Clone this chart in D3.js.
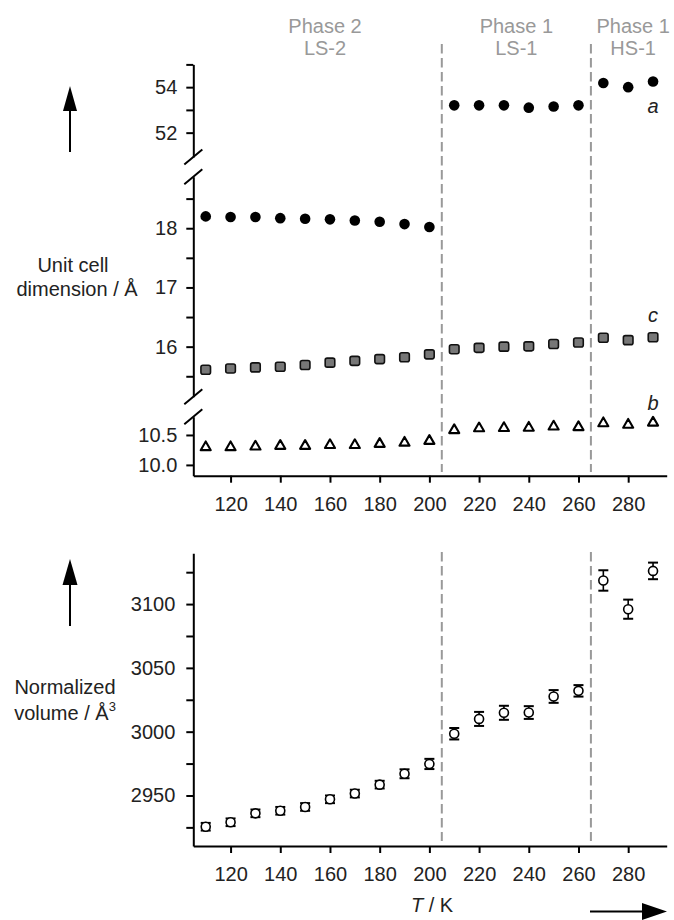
<!DOCTYPE html>
<meta charset="utf-8">
<style>
body { margin: 0; background: #fff; }
svg { font-family: "Liberation Sans", Arial, sans-serif; }
.axis path, .axis line { stroke: #000; stroke-width: 2; }
.axis text { font-size: 20px; fill: #222; font-family: "Liberation Sans", Arial, sans-serif; }
.phase { fill: #999; font-size: 20px; text-anchor: middle; }
.lbl { fill: #222; font-size: 20px; text-anchor: middle; }
.dash { stroke: #999; stroke-width: 2; stroke-dasharray: 9.5,4.5; }
</style>
<body>
<script src="https://d3js.org/d3.v7.min.js"></script>
<script>

// temperatures (K)
var temps = [110, 120, 130, 140, 150, 160, 170, 180, 190, 200,
             210, 220, 230, 240, 250, 260, 270, 280, 290];

// unit cell a (two ranges: LS-2 ~18 A, LS-1/HS-1 ~53-54 A)
var aVals = [18.20, 18.19, 18.19, 18.17, 18.16, 18.15, 18.13, 18.11, 18.07, 18.02,
             53.20, 53.20, 53.20, 53.10, 53.15, 53.20, 54.18, 54.00, 54.25];
// unit cell c
var cVals = [15.61, 15.63, 15.65, 15.66, 15.69, 15.73, 15.76, 15.79, 15.82, 15.87,
             15.955, 15.98, 16.00, 16.005, 16.045, 16.07, 16.15, 16.11, 16.16];
// unit cell b
var bVals = [10.295, 10.295, 10.305, 10.317, 10.317, 10.33, 10.33, 10.35, 10.37, 10.40,
             10.58, 10.61, 10.615, 10.62, 10.64, 10.63, 10.695, 10.67, 10.705];

// normalized volume (A^3) and error
var volume = [2925.5, 2929, 2936, 2938, 2941, 2947, 2951.5, 2958.5, 2967, 2974.7,
              2998.4, 3010, 3014.8, 3015, 3027.6, 3032, 3118.5, 3096, 3126];
var volErr = [3, 3, 3, 3, 3, 3, 3, 3, 3.5, 4,
              4.5, 5.5, 5.5, 5, 5, 4.5, 8, 7.5, 6.5];

var xTicks = [120, 140, 160, 180, 200, 220, 240, 260, 280];
var aTicks = [52, 53, 54, 55];
var midTicks = [15.5, 16, 16.5, 17, 17.5, 18, 18.5];
var bTicks = [10.0, 10.5];
var volTicks = [2925, 2950, 2975, 3000, 3025, 3050, 3075, 3100, 3125];
var phaseBounds = [205, 265];
var phaseLabels = [
  {t: 158, l1: "Phase 2", l2: "LS-2"},
  {t: 235, l1: "Phase 1", l2: "LS-1"},
  {t: 282, l1: "Phase 1", l2: "HS-1"}
];

var svg = d3.select("body").append("svg")
    .attr("width", 674)
    .attr("height", 920);

var x = d3.scaleLinear().domain([105, 295.5]).range([193.3, 666.7]);

// top panel: three broken y ranges
var y1 = d3.scaleLinear().domain([50.93, 55]).range([157, 64.4]);
var y2 = d3.scaleLinear().domain([15.155, 18.87]).range([396.7, 176.7]);
var y3 = d3.scaleLinear().domain([9.82, 10.805]).range([475.7, 416.7]);
var topBase = 475.7;

// bottom panel
var yV = d3.scaleLinear().domain([2910.4, 3139.8]).range([846, 553.3]);
var botBase = 846;

function yAxis(scale, ticks, labelled, fmt) {
  return d3.axisLeft(scale)
      .tickValues(ticks)
      .tickSize(7)
      .tickSizeOuter(0)
      .tickPadding(9)
      .tickFormat(function(d) { return labelled(d) ? fmt(d) : ""; });
}

var ax = x(105);

svg.append("g").attr("class", "axis")
    .attr("transform", "translate(" + ax + ",0)")
    .call(yAxis(y1, aTicks, function(d) { return d % 2 == 0; }, d3.format("d")));
svg.append("g").attr("class", "axis")
    .attr("transform", "translate(" + ax + ",0)")
    .call(yAxis(y2, midTicks, function(d) { return d % 1 == 0; }, d3.format("d")));
svg.append("g").attr("class", "axis")
    .attr("transform", "translate(" + ax + ",0)")
    .call(yAxis(y3, bTicks, function(d) { return true; }, d3.format(".1f")));

// axis break slashes
[y1.range()[0], y2.range()[1], y2.range()[0], y3.range()[1]].forEach(function(yy) {
  svg.append("line")
      .attr("x1", ax - 9).attr("y1", yy + 7.5)
      .attr("x2", ax + 9).attr("y2", yy - 7.5)
      .attr("stroke", "#000").attr("stroke-width", 2);
});

svg.append("g").attr("class", "axis")
    .attr("transform", "translate(0," + topBase + ")")
    .call(d3.axisBottom(x).tickValues(xTicks).tickSize(7).tickSizeOuter(0).tickPadding(14));

svg.append("g").attr("class", "axis")
    .attr("transform", "translate(" + ax + ",0)")
    .call(d3.axisLeft(yV).tickValues(volTicks).tickSize(7).tickSizeOuter(0).tickPadding(11)
      .tickFormat(function(d) { return d % 50 == 0 ? d : ""; }));

svg.append("g").attr("class", "axis")
    .attr("transform", "translate(0," + botBase + ")")
    .call(d3.axisBottom(x).tickValues(xTicks).tickSize(7).tickSizeOuter(0).tickPadding(14));

// phase boundaries
phaseBounds.forEach(function(t) {
  svg.append("line").attr("class", "dash")
      .attr("x1", x(t)).attr("x2", x(t)).attr("y1", 44).attr("y2", 472);
  svg.append("line").attr("class", "dash")
      .attr("x1", x(t)).attr("x2", x(t)).attr("y1", 552).attr("y2", 841);
});

var ph = svg.selectAll(".phase").data(phaseLabels).enter().append("text")
    .attr("class", "phase")
    .attr("x", function(d) { return x(d.t); })
    .attr("y", 33);
ph.append("tspan").text(function(d) { return d.l1; });
ph.append("tspan").attr("x", function(d) { return x(d.t); })
    .attr("dy", 22).text(function(d) { return d.l2; });

// a
svg.selectAll(".pa").data(temps).enter().append("circle")
    .attr("class", "pa")
    .attr("cx", function(d) { return x(d); })
    .attr("cy", function(d, i) { return aVals[i] > 40 ? y1(aVals[i]) : y2(aVals[i]); })
    .attr("r", 5.3)
    .attr("fill", "#000");

// c
svg.selectAll(".pc").data(temps).enter().append("rect")
    .attr("class", "pc")
    .attr("x", function(d) { return x(d) - 4.8; })
    .attr("y", function(d, i) { return y2(cVals[i]) - 4.5; })
    .attr("width", 9.6).attr("height", 9)
    .attr("rx", 2)
    .attr("fill", "#777")
    .attr("stroke", "#111").attr("stroke-width", 1.6);

// b
var tri = d3.symbol().type(d3.symbolTriangle).size(44);
svg.selectAll(".pb").data(temps).enter().append("path")
    .attr("class", "pb")
    .attr("d", tri)
    .attr("transform", function(d, i) { return "translate(" + x(d) + "," + y3(bVals[i]) + ")"; })
    .attr("fill", "#fff")
    .attr("stroke", "#000").attr("stroke-width", 2.1)
    .attr("stroke-linejoin", "round");

svg.append("text").attr("class", "lbl").attr("font-style", "italic")
    .attr("x", x(290)).attr("y", 113).text("a");
svg.append("text").attr("class", "lbl").attr("font-style", "italic")
    .attr("x", x(290)).attr("y", 322).text("c");
svg.append("text").attr("class", "lbl").attr("font-style", "italic")
    .attr("x", x(290)).attr("y", 410).text("b");

// volume with error bars
var ve = svg.selectAll(".ve").data(temps).enter().append("g").attr("class", "ve");
ve.append("line")
    .attr("x1", function(d) { return x(d); }).attr("x2", function(d) { return x(d); })
    .attr("y1", function(d, i) { return yV(volume[i] - volErr[i]); })
    .attr("y2", function(d, i) { return yV(volume[i] + volErr[i]); })
    .attr("stroke", "#000").attr("stroke-width", 1.6);
[-1, 1].forEach(function(s) {
  ve.append("line")
      .attr("x1", function(d) { return x(d) - 5; }).attr("x2", function(d) { return x(d) + 5; })
      .attr("y1", function(d, i) { return yV(volume[i] + s * volErr[i]); })
      .attr("y2", function(d, i) { return yV(volume[i] + s * volErr[i]); })
      .attr("stroke", "#000").attr("stroke-width", 2);
});
ve.append("circle")
    .attr("cx", function(d) { return x(d); })
    .attr("cy", function(d, i) { return yV(volume[i]); })
    .attr("r", 4.5)
    .attr("fill", "#fff")
    .attr("stroke", "#000").attr("stroke-width", 1.6);

// y titles
var t1 = svg.append("text").attr("class", "lbl").attr("x", 73).attr("y", 272);
t1.append("tspan").text("Unit cell");
t1.append("tspan").attr("x", 77).attr("dy", 24).text("dimension / Å");

var t2 = svg.append("text").attr("class", "lbl").attr("x", 65).attr("y", 694);
t2.append("tspan").text("Normalized");
t2.append("tspan").attr("x", 65).attr("dy", 26).text("volume / Å");
t2.append("tspan").attr("dy", -9).attr("font-size", 13).text("3");

var tx = svg.append("text").attr("class", "lbl").attr("x", 432).attr("y", 912);
tx.append("tspan").attr("font-style", "italic").text("T");
tx.append("tspan").text(" / K");

// arrows
function arrow(x1, y1, x2, y2, hl, hw) {
  var ang = Math.atan2(y2 - y1, x2 - x1);
  var bx = x2 - hl * Math.cos(ang), by = y2 - hl * Math.sin(ang);
  svg.append("line").attr("x1", x1).attr("y1", y1).attr("x2", bx).attr("y2", by)
      .attr("stroke", "#000").attr("stroke-width", 2);
  var px = -Math.sin(ang) * hw / 2, py = Math.cos(ang) * hw / 2;
  svg.append("path")
      .attr("d", "M" + x2 + "," + y2 + "L" + (bx + px) + "," + (by + py) + "L" + (bx - px) + "," + (by - py) + "Z")
      .attr("fill", "#000");
}
arrow(70, 152, 70, 86, 25, 14);
arrow(70, 626, 70, 559, 26, 15);
arrow(590, 911.5, 667, 911.5, 25, 17);

</script>
</body>
